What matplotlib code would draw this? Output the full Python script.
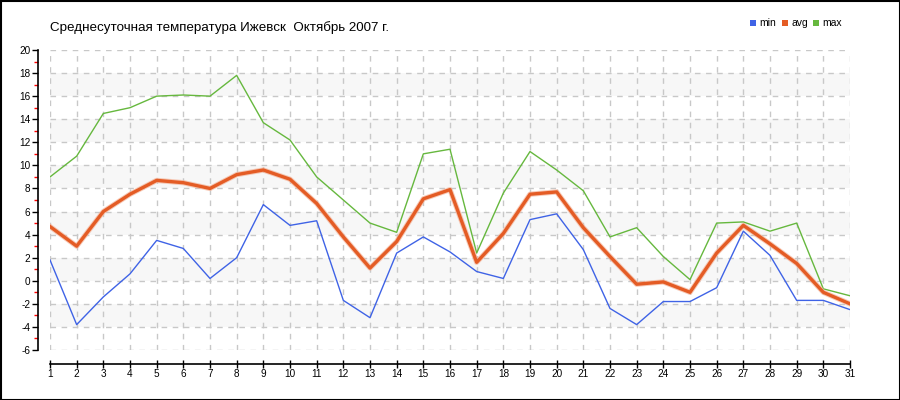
import matplotlib
matplotlib.use("Agg")
import matplotlib.pyplot as plt
from matplotlib.patches import Rectangle
from matplotlib.ticker import MultipleLocator

plt.rcParams['font.family'] = ['Liberation Sans', 'DejaVu Sans']

days = list(range(1, 32))
t_min = [1.8, -3.8, -1.4, 0.6, 3.5, 2.8, 0.2, 2.0, 6.6, 4.8, 5.2, -1.7, -3.2, 2.4, 3.8, 2.5,
         0.8, 0.2, 5.3, 5.8, 2.7, -2.4, -3.8, -1.8, -1.8, -0.6, 4.3, 2.2, -1.7, -1.7, -2.5]
t_avg = [4.7, 3.0, 6.0, 7.5, 8.7, 8.5, 8.0, 9.2, 9.6, 8.8, 6.7, 3.8, 1.1, 3.4, 7.1, 7.9,
         1.6, 4.1, 7.5, 7.7, 4.6, 2.1, -0.3, -0.1, -1.0, 2.4, 4.8, 3.2, 1.5, -1.0, -2.0]
t_max = [9.0, 10.8, 14.5, 15.0, 16.0, 16.1, 16.0, 17.8, 13.7, 12.2, 9.0, 7.0, 5.0, 4.2, 11.0, 11.4,
         2.4, 7.6, 11.2, 9.6, 7.8, 3.8, 4.6, 2.1, 0.1, 5.0, 5.1, 4.3, 5.0, -0.7, -1.3]
series_names = ['min', 'avg', 'max']
title = 'Среднесуточная температура Ижевск  Октябрь 2007 г.'

c_min = '#3f63e6'
c_avg = '#e45c25'
c_max = '#66b83e'

fig = plt.figure(figsize=(9, 4), dpi=100)
ax = fig.add_axes([50/900, 50/400, 800/900, 300/400])
ax.set_xlim(1, 31)
ax.set_ylim(-6, 20)

# background bands
for lo in range(-4, 20, 4):
    ax.axhspan(lo, lo + 2, color='#f7f7f7', zorder=0, lw=0)

# grid
for d in days:
    ax.axvline(d, color='#c8c8c8', lw=1, ls=(0, (4, 4)), zorder=1)
for v in range(-6, 21, 2):
    ax.axhline(v, color='#c8c8c8', lw=1, ls=(0, (4, 4)), zorder=1)

ax.plot(days, t_max, color=c_max, lw=1, zorder=3)
ax.plot(days, t_avg, color='#f4b49a', lw=3.8, zorder=3, alpha=0.7)
ax.plot(days, t_avg, color=c_avg, lw=2.4, zorder=4)
ax.plot(days, t_min, color=c_min, lw=1, zorder=3)

for s in ['top', 'right']:
    ax.spines[s].set_visible(False)
ax.spines['left'].set_position(('outward', 9))
ax.spines['bottom'].set_position(('outward', 10))
ax.spines['left'].set_bounds(-6, 20)
ax.spines['bottom'].set_bounds(1, 31)
ax.spines['left'].set_linewidth(1.2)
ax.spines['bottom'].set_linewidth(1.2)

ax.set_xticks(days)
ax.set_xticklabels([str(d) for d in days])
ax.yaxis.set_major_locator(MultipleLocator(2))
ax.yaxis.set_minor_locator(MultipleLocator(1))
ax.tick_params(axis='x', direction='inout', length=6, width=1, labelsize=7.2, pad=1)
ax.tick_params(axis='y', which='major', direction='out', length=4, width=1, labelsize=7.2, pad=1)
ax.tick_params(axis='y', which='minor', direction='out', length=3, width=1, color='red')
ax.set_yticklabels([str(int(v)) for v in ax.get_yticks()])
ax.set_ylim(-6, 20)

fig.text(50/900, 1 - 28/400, title, fontsize=9.6, va='center', ha='left')

# legend
leg_items = [(750, c_min, series_names[0]), (782, c_avg, series_names[1]), (813, c_max, series_names[2])]
for x, c, name in leg_items:
    fig.patches.append(Rectangle((x/900, 1 - 26/400), 6/900, 6/400, transform=fig.transFigure,
                                 facecolor=c, edgecolor='none'))
    fig.text((x + 9)/900, 1 - 23/400, name, fontsize=7.5, va='center', ha='left')

fig.patches.append(Rectangle((0.5/900, 0.5/400), 899/900, 399/400, transform=fig.transFigure,
                             facecolor='none', edgecolor='black', lw=1.5))

fig.savefig('out.png', dpi=100)
